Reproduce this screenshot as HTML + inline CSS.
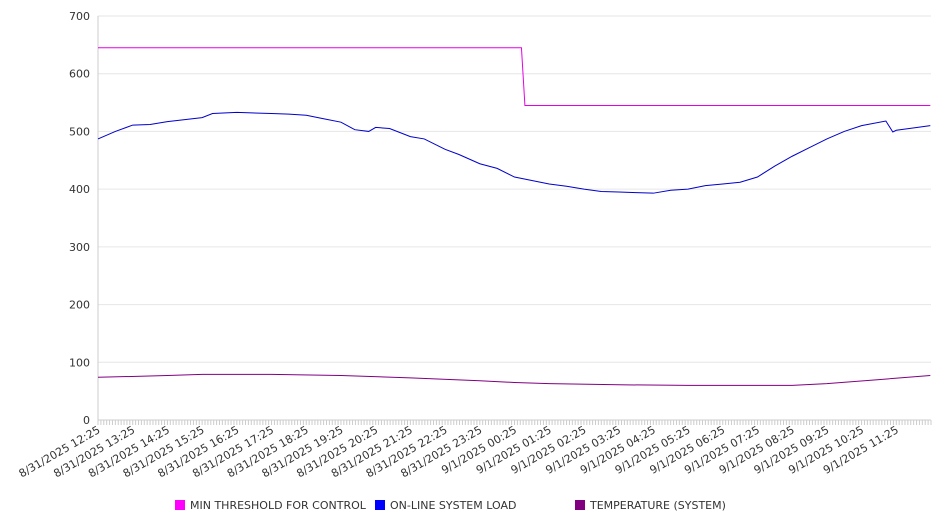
<!DOCTYPE html>
<html><head><meta charset="utf-8"><style>
body{margin:0;background:#fff;font-family:"DejaVu Sans","Liberation Sans",sans-serif;}
svg text{font-family:"DejaVu Sans","Liberation Sans",sans-serif;fill:#333;}
</style></head><body>
<svg id="chart" width="946" height="526" xmlns="http://www.w3.org/2000/svg"></svg>
<script>
const yTicks=[0,100,200,300,400,500,600,700];
const xLabels=["8/31/2025 12:25","8/31/2025 13:25","8/31/2025 14:25","8/31/2025 15:25","8/31/2025 16:25","8/31/2025 17:25","8/31/2025 18:25","8/31/2025 19:25","8/31/2025 20:25","8/31/2025 21:25","8/31/2025 22:25","8/31/2025 23:25","9/1/2025 00:25","9/1/2025 01:25","9/1/2025 02:25","9/1/2025 03:25","9/1/2025 04:25","9/1/2025 05:25","9/1/2025 06:25","9/1/2025 07:25","9/1/2025 08:25","9/1/2025 09:25","9/1/2025 10:25","9/1/2025 11:25"];
const loadHours=[0,0.5,1,1.5,2,3,3.3,4,5,5.5,6,6.5,7,7.4,7.8,8,8.4,9,9.4,10,10.4,11,11.5,12,12.5,13,13.5,14,14.5,15,15.5,16,16.5,17,17.5,18,18.5,19,19.5,20,20.5,21,21.5,22,22.7,22.9,23,23.98];
const loadValues=[487,500,511,512,517,524,531,533,531,530,528,522,516,503,500,507,505,491,487,469,460,444,436,421,415,409,405,400,396,395,394,393,398,400,406,409,412,421,440,457,472,487,500,510,518,499,502,510];
const threshHours=[0,12.2,12.3,23.98];
const threshValues=[645,645,545,545];
const tempHours=[0,2,3,5,7,9,11,12,13,15,17,19,20,21,22.5,23.98];
const tempValues=[74,77,79,79,77,73,68,65,63,61,60,60,60,63,70,77];
const svg=document.getElementById('chart');
const NS='http://www.w3.org/2000/svg';
const X0=98,X1=931,Y0=420,Y1=16;
const x=h=>X0+h*(X1-X0)/24;
const y=v=>Y0-v*(Y0-Y1)/700;
function mk(t,a){const e=document.createElementNS(NS,t);for(const k in a)e.setAttribute(k,a[k]);svg.appendChild(e);return e;}
yTicks.forEach(v=>{
 const g=mk('line',{x1:X0,x2:X1,y1:y(v),y2:y(v),stroke:v===0?'#ccc':'#e6e6e6'});
 
 
 const t=mk('text',{x:90,y:y(v)+4,'text-anchor':'end','font-size':11});
 t.textContent=v;
 
 
});
const ax=mk('line',{x1:X0,x2:X0,y1:Y1,y2:Y0,stroke:'#ccc'});


for(let i=0;i<=288;i++){const tk=mk('line',{x1:x(i/12),x2:x(i/12),y1:Y0,y2:Y0+5,stroke:'#ccc'});
 
 }
xLabels.forEach((s,i)=>{
 const t=mk('text',{x:0,y:0,'text-anchor':'end','font-size':11,transform:`translate(${x(i)+3},${Y0+12}) rotate(-30)`});
 t.textContent=s;
 
 
});
function line(hs,vs,color,name){
 const p=mk('polyline',{points:hs.map((h,i)=>x(h)+','+y(vs[i])).join(' '),fill:'none',stroke:color,'stroke-width':1});
 
 
}
line(threshHours,threshValues,'#e600e6','series-min-threshold');
line(loadHours,loadValues,'#0000cc','series-online-load');
line(tempHours,tempValues,'#800080','series-temperature');
[[175,'#ff00ff','MIN THRESHOLD FOR CONTROL'],[375,'#0000ff','ON-LINE SYSTEM LOAD'],[575,'#800080','TEMPERATURE (SYSTEM)']].forEach(([lx,c,s])=>{
 const r=mk('rect',{x:lx,y:500,width:10,height:10,fill:c});
 
 
 const t=mk('text',{x:lx+15,y:509,'font-size':11});
 t.textContent=s;
 
 
});
</script>
</body></html>
